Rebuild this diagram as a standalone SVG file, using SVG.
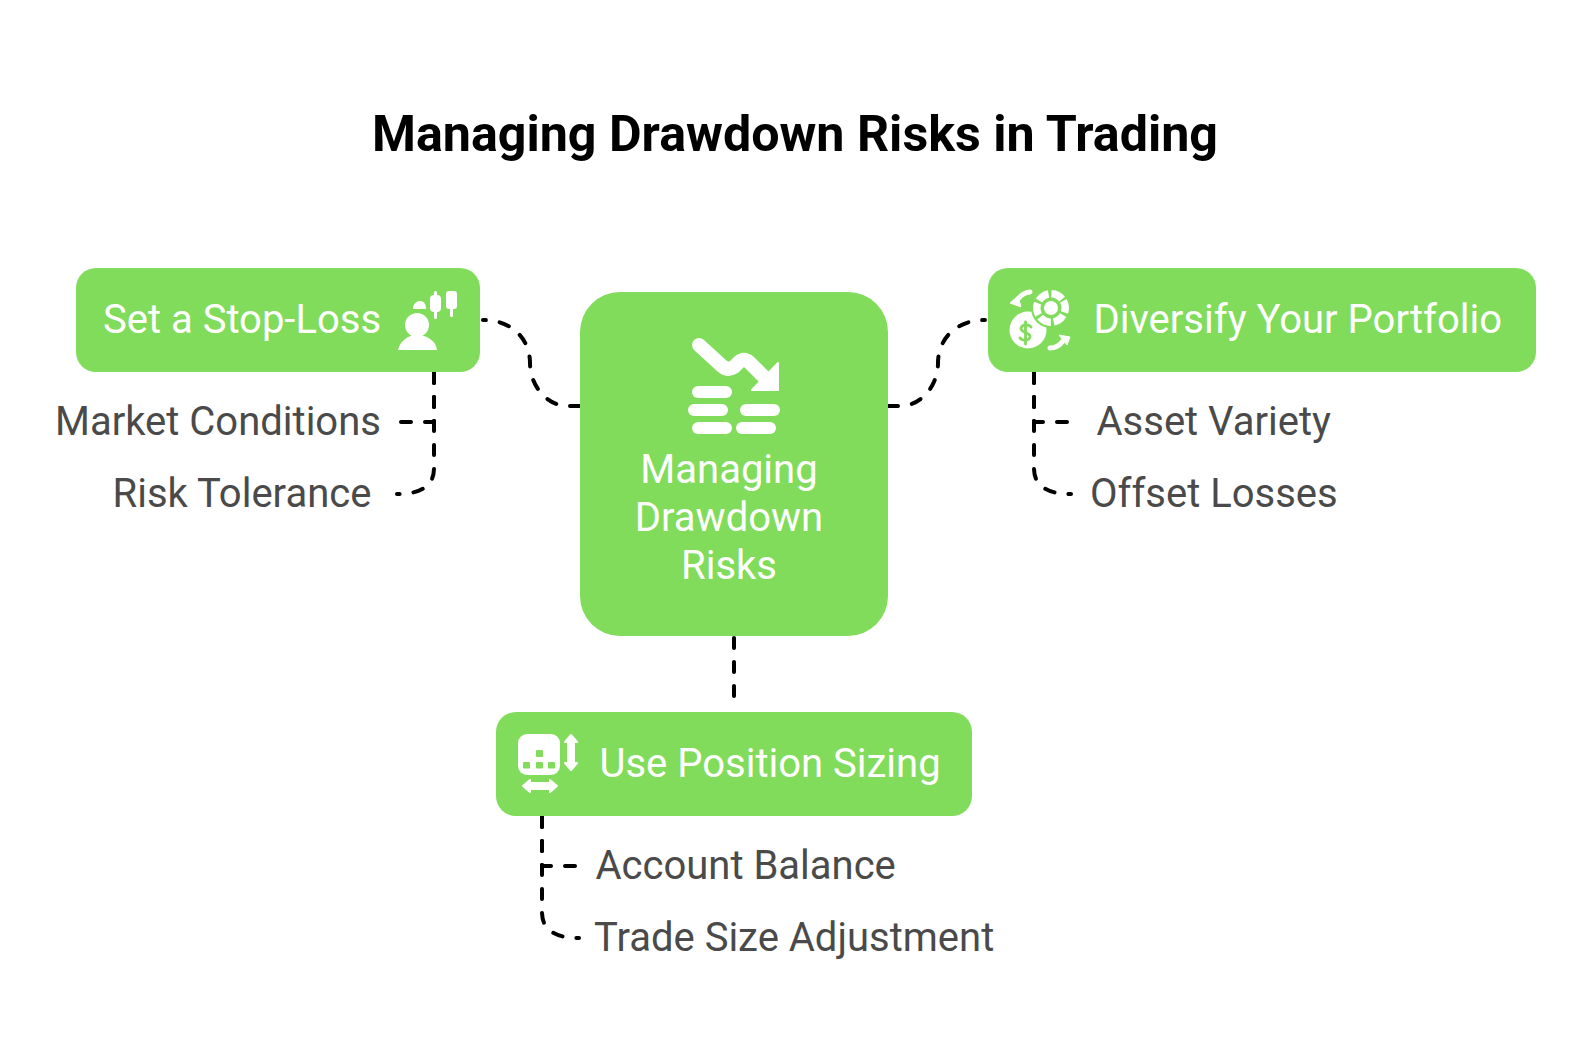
<svg xmlns="http://www.w3.org/2000/svg" width="1588" height="1060" viewBox="0 0 1588 1060">
<style>
.box{fill:#80dc5a}
.t{font-family:Roboto,"Liberation Sans",sans-serif;font-size:40px;fill:#fff}
.l{font-family:Roboto,"Liberation Sans",sans-serif;font-size:40px;fill:#4a4a4a}
.c{fill:none;stroke:#000;stroke-width:4;stroke-linecap:round;stroke-dasharray:10 14}
.i{fill:#fff}
.is{fill:none;stroke:#fff;stroke-linecap:round;stroke-linejoin:round}
</style>
<rect width="1588" height="1060" fill="#fff"/>
<text id="title" x="795" y="151" text-anchor="middle" font-family="Roboto,'Liberation Sans',sans-serif" font-size="50.200" font-weight="700" fill="#000">Managing Drawdown Risks in Trading</text>
<g id="connectors">
<path class="c" d="M580 406H568C547 406 530 386 530 363C530 340 513 320 483 320"/>
<path class="c" d="M888 406H900C921 406 938 386 938 363C938 340 955 320 985 320"/>
<path class="c" d="M734 638V698"/>
<path class="c" d="M434 373V422H398"/>
<path class="c" d="M434 373V468C434 484 424 494 397 494"/>
<path class="c" d="M1034 373V422H1070"/>
<path class="c" d="M1034 373V468C1034 484 1044 494 1071 494"/>
<path class="c" d="M542 817V866H578"/>
<path class="c" d="M542 817V912C542 928 552 938 579 938"/>
</g>
<g id="node-center">
<rect class="box" x="580" y="292" width="308" height="344" rx="40"/>
<path class="is" stroke-width="14" d="M699 345L722 366Q728 371 734 367L739 362Q744 358 749 362L767 380"/>
<path class="i" d="M778 363V390H752Z" stroke="#fff" stroke-width="2" stroke-linejoin="round"/>
<g class="i">
<rect x="692" y="386" width="40" height="12" rx="6"/>
<rect x="688" y="404" width="40" height="12" rx="6"/>
<rect x="740" y="404" width="40" height="12" rx="6"/>
<rect x="692" y="422" width="40" height="12" rx="6"/>
<rect x="736" y="422" width="40" height="12" rx="6"/>
</g>
<text class="t" x="729" y="483" text-anchor="middle">Managing</text>
<text class="t" x="729" y="531" text-anchor="middle">Drawdown</text>
<text class="t" x="729" y="579" text-anchor="middle">Risks</text>
</g>
<g id="node-stoploss">
<rect class="box" x="76" y="268" width="404" height="104" rx="20"/>
<text class="t" x="103" y="333">Set a Stop-Loss</text>
<circle class="i" cx="417" cy="325" r="12"/>
<path class="i" d="M398 350C400 341 408 335 417 335C427 335 436 341 437 350Z"/>
<path class="i" d="M413 309C413 304 416 301 420 301C424 301 426 304 426 309Z"/>
<rect class="i" x="430" y="295" width="11" height="17" rx="4"/>
<rect class="i" x="434" y="291" width="3" height="28" rx="1.500"/>
<rect class="i" x="446" y="291" width="11" height="18" rx="3"/>
<rect class="i" x="450" y="300" width="3" height="17" rx="1.500"/>
</g>
<g id="node-diversify">
<rect class="box" x="988" y="268" width="548" height="104" rx="20"/>
<text class="t" x="1093.500" y="333">Diversify Your Portfolio</text>
<circle class="i" cx="1028" cy="330" r="18.500"/>
<circle class="box" cx="1051" cy="308" r="20"/>
<circle class="i" cx="1051" cy="308" r="7"/>
<circle cx="1051" cy="308" r="14.200" fill="none" stroke="#fff" stroke-width="7.500" stroke-dasharray="12 2.870" transform="rotate(-30 1051 308)"/>
<path d="M1031 327C1029 324 1022 324 1021 328C1020 333 1031 332 1030 337C1029 341 1022 341 1020 338M1025.500 322V344" fill="none" stroke="#80dc5a" stroke-width="2.800" stroke-linecap="round"/>
<path class="is" stroke-width="5" d="M1030 292C1025 292.500 1021 295 1018 299"/>
<path class="i" d="M1010 303L1021 307L1018 296Z" stroke="#fff" stroke-linejoin="round"/>
<path class="is" stroke-width="5" d="M1050 348C1055 348 1060 345 1063 341"/>
<path class="i" d="M1070 337L1059 335L1067 345Z" stroke="#fff" stroke-linejoin="round"/>
</g>
<g id="node-sizing">
<rect class="box" x="496" y="712" width="476" height="104" rx="20"/>
<text class="t" x="599.500" y="777">Use Position Sizing</text>
<rect class="i" x="518" y="734" width="42" height="41" rx="9"/>
<g fill="#80dc5a">
<rect x="536" y="750" width="7" height="7" rx="1"/>
<rect x="523" y="762" width="7" height="6.500" rx="1"/>
<rect x="536" y="762" width="7" height="6.500" rx="1"/>
<rect x="548" y="762" width="7" height="6.500" rx="1"/>
</g>
<path class="i" d="M571 735L577 742H574V763H577L571 770L565 763H568V742H565Z" stroke="#fff" stroke-width="2" stroke-linejoin="round"/>
<path class="i" d="M523 786L530 780V783H550V780L557 786L550 792V789H530V792Z" stroke="#fff" stroke-width="2" stroke-linejoin="round"/>
</g>
<g id="leaves">
<text id="leaf-market" class="l" x="55" y="435">Market Conditions</text>
<text id="leaf-risk" class="l" x="112.500" y="507">Risk Tolerance</text>
<text id="leaf-asset" class="l" x="1096.500" y="435">Asset Variety</text>
<text id="leaf-offset" class="l" x="1090" y="507">Offset Losses</text>
<text id="leaf-account" class="l" x="595.500" y="879">Account Balance</text>
<text id="leaf-trade" class="l" x="594" y="951">Trade Size Adjustment</text>
</g>
</svg>
